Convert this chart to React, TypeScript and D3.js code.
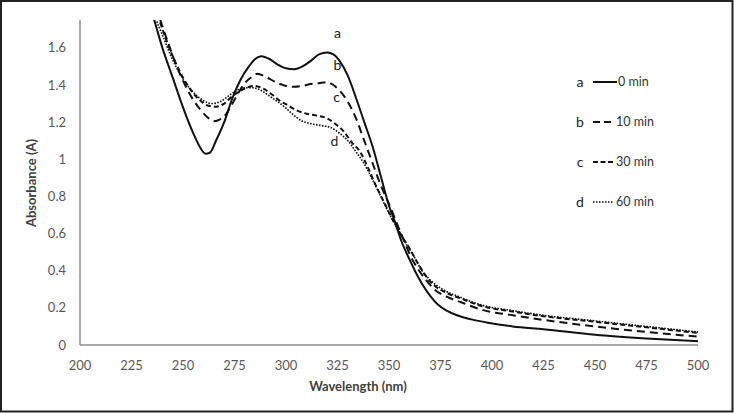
import React from "react";
import * as d3 from "d3";

const W = 734;
const H = 413;

const xTicks = [200, 225, 250, 275, 300, 325, 350, 375, 400, 425, 450, 475, 500];
const yTicks = [0, 0.2, 0.4, 0.6, 0.8, 1, 1.2, 1.4, 1.6];
const yTickLabels = ["0", "0.2", "0.4", "0.6", "0.8", "1", "1.2", "1.4", "1.6"];

const seriesNames = ["a", "b", "c", "d"];
const seriesLabels = ["0 min", "10 min", "30 min", "60 min"];

const serA: [number, number][] = [
  [234, 1.82], [236, 1.75], [240, 1.6], [245, 1.44], [250, 1.28], [255, 1.14], [258, 1.07], [261, 1.03],
  [263, 1.035], [266, 1.1], [270, 1.2], [274, 1.33], [278, 1.43], [282, 1.5], [285, 1.54], [288, 1.555],
  [292, 1.54], [296, 1.51], [300, 1.49], [304, 1.485], [308, 1.5], [312, 1.53], [316, 1.565], [320, 1.575],
  [323, 1.565], [326, 1.53], [330, 1.45], [334, 1.33], [338, 1.2], [342, 1.07], [346, 0.91], [350, 0.75],
  [353, 0.66], [356, 0.56], [360, 0.46], [363, 0.39], [366, 0.33], [370, 0.265], [374, 0.215], [378, 0.185],
  [383, 0.16], [390, 0.138], [398, 0.12], [410, 0.1], [425, 0.085], [450, 0.055], [475, 0.035], [500, 0.02],
];

const serB: [number, number][] = [
  [237, 1.82], [239, 1.75], [243, 1.62], [247, 1.5], [251, 1.4], [255, 1.32], [259, 1.26], [262, 1.225],
  [265, 1.205], [268, 1.215], [271, 1.245], [274, 1.3], [277, 1.36], [280, 1.41], [283, 1.44], [286, 1.46],
  [290, 1.445], [295, 1.415], [300, 1.395], [304, 1.39], [308, 1.395], [312, 1.405], [316, 1.41], [320, 1.415],
  [323, 1.4], [326, 1.37], [330, 1.31], [334, 1.22], [338, 1.1], [342, 0.98], [346, 0.86], [350, 0.76],
  [354, 0.65], [357, 0.57], [360, 0.49], [364, 0.41], [368, 0.35], [372, 0.3], [378, 0.26], [385, 0.23],
  [395, 0.19], [410, 0.16], [425, 0.135], [450, 0.1], [475, 0.07], [500, 0.045],
];

const serC: [number, number][] = [
  [236.5, 1.82], [238.5, 1.75], [242, 1.64], [246, 1.53], [250, 1.44], [254, 1.37], [258, 1.32], [262, 1.29],
  [266, 1.283], [270, 1.3], [274, 1.34], [278, 1.37], [282, 1.39], [285, 1.395], [289, 1.38], [293, 1.35],
  [297, 1.315], [301, 1.29], [305, 1.265], [310, 1.245], [315, 1.235], [320, 1.22], [324, 1.19], [328, 1.15],
  [332, 1.09], [336, 1.04], [340, 0.95], [344, 0.85], [348, 0.76], [352, 0.67], [356, 0.59], [360, 0.52],
  [364, 0.44], [368, 0.37], [372, 0.32], [378, 0.28], [385, 0.25], [395, 0.21], [410, 0.18], [425, 0.155],
  [450, 0.125], [475, 0.095], [500, 0.065],
];

const serD: [number, number][] = [
  [235, 1.82], [237, 1.75], [240, 1.67], [244, 1.56], [248, 1.47], [252, 1.4], [256, 1.35], [260, 1.315],
  [264, 1.3], [268, 1.31], [272, 1.34], [276, 1.37], [280, 1.385], [284, 1.385], [288, 1.37], [292, 1.34],
  [296, 1.31], [300, 1.275], [304, 1.235], [308, 1.205], [313, 1.19], [318, 1.18], [322, 1.17], [326, 1.14],
  [330, 1.1], [334, 1.04], [338, 0.975], [342, 0.89], [346, 0.8], [350, 0.71], [354, 0.63], [358, 0.55],
  [362, 0.48], [366, 0.4], [370, 0.35], [376, 0.3], [384, 0.26], [395, 0.215], [410, 0.185], [425, 0.16],
  [450, 0.13], [475, 0.1], [500, 0.07],
];

const allSeries = [serA, serB, serC, serD];
const dashes = ["none", "8,5", "5,3", "1.6,1.4"];
const widths = [2, 2, 2, 1.6];
const legendDashes = ["none", "7,4", "5,2.5", "1.5,1.5"];

// curve label positions (data coordinates)
const curveLabelPos: [number, number][] = [
  [325, 1.68], [325, 1.505], [324.5, 1.335], [323.5, 1.1],
];

export default function App() {
  const left = 80, right = 698, top = 20, bottom = 345;
  const x = d3.scaleLinear().domain([200, 500]).range([left, right]);
  const y = d3.scaleLinear().domain([0, 1.75]).range([bottom, top]);
  const line = d3
    .line<[number, number]>()
    .x((d) => x(d[0]))
    .y((d) => y(d[1]))
    .curve(d3.curveMonotoneX);

  const font = "Lato, 'Open Sans', sans-serif";
  const legX = 580;
  const legY0 = 82;
  const legStep = 40;

  return (
    <svg
      width={W}
      height={H}
      style={{ position: "fixed", left: 0, top: 0, background: "#fff" }}
      fontFamily={font}
    >
      <rect x={0} y={0} width={W} height={H} fill="#fff" />
      <defs>
        <clipPath id="plotclip">
          <rect x={left} y={top} width={right - left + 2} height={bottom - top} />
        </clipPath>
      </defs>

      {/* axes */}
      <line x1={left} x2={left} y1={top} y2={bottom} stroke="#8c8c8c" strokeWidth={1.5} />
      <line x1={left} x2={right} y1={bottom} y2={bottom} stroke="#8c8c8c" strokeWidth={1.5} />

      {yTicks.map((t, i) => (
        <text
          key={"y" + t}
          x={66}
          y={y(t)}
          dy="0.35em"
          textAnchor="end"
          fontSize={13}
          fill="#595959"
        >
          {yTickLabels[i]}
        </text>
      ))}
      {xTicks.map((t) => (
        <text
          key={"x" + t}
          x={x(t)}
          y={365}
          dy="0.35em"
          textAnchor="middle"
          fontSize={13}
          fill="#595959"
        >
          {t}
        </text>
      ))}

      <text x={358} y={391} textAnchor="middle" fontSize={13} fontWeight="bold" fill="#404040">
        Wavelength (nm)
      </text>
      <text
        transform={`translate(36,183) rotate(-90)`}
        textAnchor="middle"
        fontSize={13}
        fontWeight="bold"
        fill="#404040"
      >
        Absorbance (A)
      </text>

      <g clipPath="url(#plotclip)">
        {allSeries.map((s, i) => (
          <path
            key={"s" + i}
            d={line(s) || ""}
            fill="none"
            stroke="#111"
            strokeWidth={widths[i]}
            strokeDasharray={dashes[i]}
          />
        ))}
      </g>

      {curveLabelPos.map((p, i) => (
        <text
          key={"cl" + i}
          x={x(p[0])}
          y={y(p[1])}
          dy="0.35em"
          textAnchor="middle"
          fontSize={14}
          fill="#222"
        >
          {seriesNames[i]}
        </text>
      ))}

      {/* legend */}
      {seriesNames.map((n, i) => {
        const ly = legY0 + i * legStep;
        return (
          <g key={"leg" + i}>
            <text x={legX} y={ly} dy="0.35em" textAnchor="middle" fontSize={14} fill="#222">
              {n}
            </text>
            <line
              x1={593}
              x2={i === 0 ? 617 : 613}
              y1={ly}
              y2={ly}
              stroke="#111"
              strokeWidth={i === 3 ? 1.5 : 2}
              strokeDasharray={legendDashes[i]}
            />
            <text x={i === 0 ? 618 : 616} y={ly} dy="0.35em" fontSize={12.5} fill="#333">
              {seriesLabels[i]}
            </text>
          </g>
        );
      })}

      <rect x={1} y={1} width={W - 2.5} height={H - 2.5} fill="none" stroke="#222" strokeWidth={2} />
    </svg>
  );
}
